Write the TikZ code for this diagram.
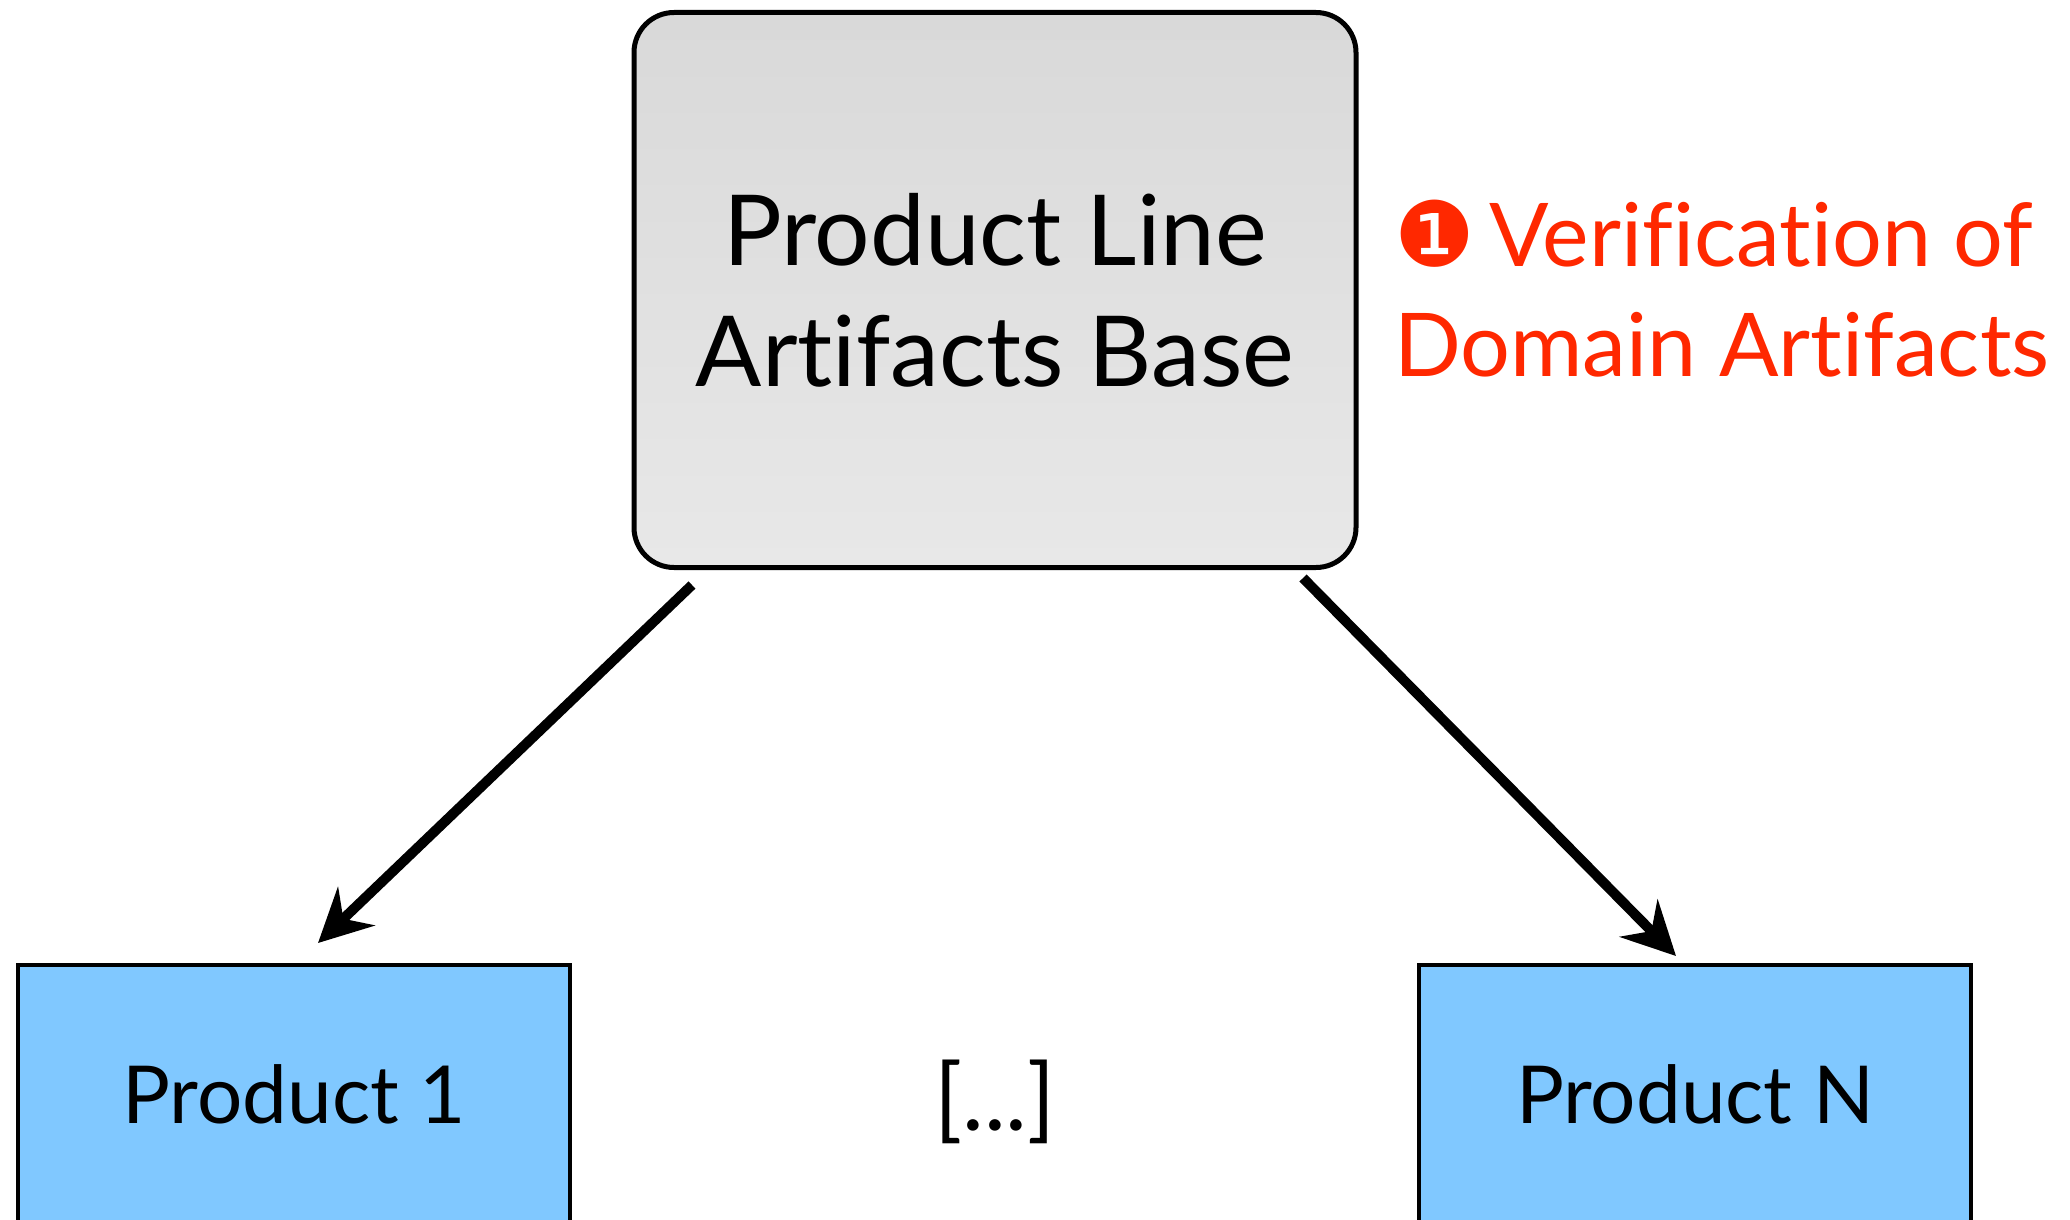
\documentclass[tikz,border=0pt]{standalone}
\usepackage{fontspec}
\setmainfont{Lato}[Ligatures={NoCommon}]
\newfontfamily\symfont{DejaVu Sans}
\usetikzlibrary{arrows.meta}
\definecolor{notered}{RGB}{255,40,0}
\definecolor{prodblue}{RGB}{128,200,255}
\tikzset{
  basebox/.style={draw=black, line width=5pt, rounded corners=40pt,
    top color=black!15, bottom color=black!9,
    minimum width=722pt, minimum height=555pt, align=center,
    font=\fontsize{98}{121}\selectfont},
  prodbox/.style={draw=black, line width=3.5pt, fill=prodblue,
    minimum width=552pt, minimum height=258pt,
    font=\fontsize{80}{100}\selectfont},
  note/.style={text=notered, align=left, anchor=north west,
    font=\fontsize{88}{110}\selectfont, inner sep=0pt},
  flow/.style={line width=10pt, -{Stealth[length=53pt, width=53pt, inset=18pt]}}
}
\begin{document}
\begin{tikzpicture}[x=1pt, y=-1pt]
  \clip (0,0) rectangle (2070,1220);
  \fill[white] (0,0) rectangle (2070,1220);

  % product line base and the derived products
  \node[basebox] (base) at (995,290) {Product Line\\Artifacts Base};
  \node[prodbox] (p1) at (294,1094) {Product 1};
  \node[prodbox] (pn) at (1695,1094) {Product N};
  \node[font=\fontsize{92}{100}\selectfont] (dots) at (995,1102) {[...]};

  % annotation beside the base
  \node[note] (verif) at (1394,200)
    {{\symfont\fontsize{90}{90}\selectfont\char"2776}\,Verification of\\Domain Artifacts};

  % derivation arrows
  \coordinate (l0) at (692,585);
  \coordinate (l1) at (318,943);
  \coordinate (r0) at (1303,578);
  \coordinate (r1) at (1676,956);
  \draw[flow] (l0) -- (l1);
  \draw[flow] (r0) -- (r1);
\end{tikzpicture}
\end{document}
